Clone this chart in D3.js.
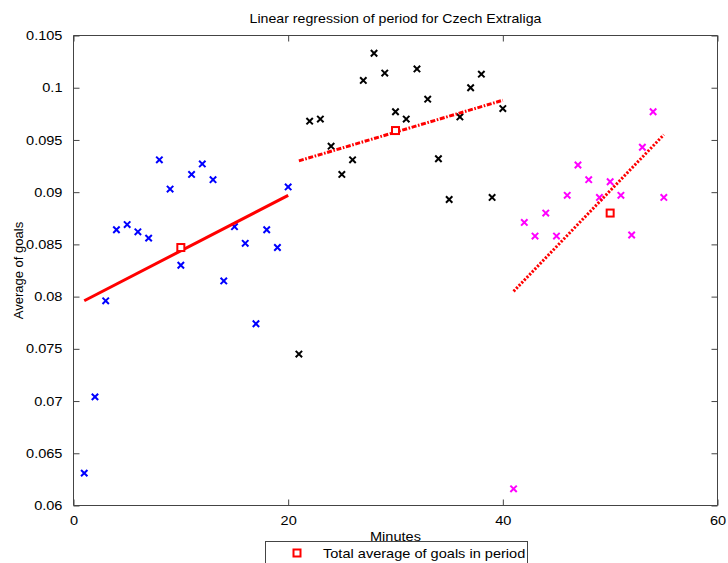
<!DOCTYPE html>
<html>
<head>
<meta charset="utf-8">
<script src="https://cdn.jsdelivr.net/npm/d3@7"></script>
<style>
  html, body { margin: 0; padding: 0; background: #fff; }
  svg { display: block; font-family: "Liberation Sans", Arial, sans-serif; }
</style>
</head>
<body>
<svg id="chart" width="728" height="563"></svg>
<script>
// Per-minute average of goals, grouped by period
const minutesP1 = d3.range(1, 21);
const goalsP1 = [0.0631, 0.0704, 0.0796, 0.0864, 0.0869, 0.0862, 0.0856, 0.0931, 0.0903, 0.0830,
                 0.0917, 0.0927, 0.0912, 0.0815, 0.0867, 0.0851, 0.0774, 0.0864, 0.0847, 0.0905];
const minutesP2 = d3.range(21, 41);
const goalsP2 = [0.0745, 0.0968, 0.0970, 0.0944, 0.0917, 0.0931, 0.1007, 0.1033, 0.1014, 0.0977,
                 0.0970, 0.1018, 0.0989, 0.0932, 0.0893, 0.0972, 0.1000, 0.1013, 0.0895, 0.0980];
const minutesP3 = d3.range(41, 56);
const goalsP3 = [0.0616, 0.0871, 0.0858, 0.0880, 0.0858, 0.0897, 0.0926, 0.0912, 0.0895, 0.0910,
                 0.0897, 0.0859, 0.0943, 0.0977, 0.0895];

// Fitted regression line endpoints per period: [start minute, end minute], [start value, end value]
const fitMinutes = [[1, 20], [21, 40], [41, 55]];
const fitValues = [[0.0796, 0.0897], [0.0930, 0.0988], [0.0805, 0.0955]];

// Total average per period, plotted at the period midpoint
const meanMinutes = [10, 30, 50];
const meanValues = [0.0847, 0.0959, 0.0880];

const xTicks = [0, 20, 40, 60];
const yTicks = [0.06, 0.065, 0.07, 0.075, 0.08, 0.085, 0.09, 0.095, 0.1, 0.105];

const svg = d3.select("#chart");
const plotLeft = 73.5, plotRight = 717.5, plotTop = 35.5, plotBottom = 505.5;

const x = d3.scaleLinear().domain([0, 60]).range([plotLeft, plotRight]);
const y = d3.scaleLinear().domain([0.06, 0.105]).range([plotBottom, plotTop]);

const axisColor = "#444";
const fmt = v => String(+v.toFixed(3));

// Slightly wide lettering, widened around a fixed edge or centre
function widen(sel, origin, k = 1.12) {
  sel.style("transform-box", "fill-box")
     .style("transform-origin", origin)
     .style("transform", `scaleX(${k})`);
}

// Axes: ticks point inward on all four sides
const gx = svg.append("g").attr("transform", `translate(0,${plotBottom})`)
  .call(d3.axisBottom(x).tickValues(xTicks).tickSize(-6).tickPadding(10).tickFormat(d3.format("d")));
const gxTop = svg.append("g").attr("transform", `translate(0,${plotTop})`)
  .call(d3.axisTop(x).tickValues(xTicks).tickSize(-6).tickFormat(""));
const gy = svg.append("g").attr("transform", `translate(${plotLeft},0)`)
  .call(d3.axisLeft(y).tickValues(yTicks).tickSize(-6).tickPadding(11).tickFormat(fmt));
const gyRight = svg.append("g").attr("transform", `translate(${plotRight},0)`)
  .call(d3.axisRight(y).tickValues(yTicks).tickSize(-6).tickFormat(""));

[gx, gxTop, gy, gyRight].forEach(g => {
  g.select(".domain").attr("stroke", axisColor).attr("stroke-width", 1).attr("d",
    g === gx || g === gxTop ? `M${plotLeft},0H${plotRight}` : `M0,${plotTop}V${plotBottom}`);
  g.selectAll(".tick line").attr("stroke", axisColor);
  g.selectAll(".tick text").attr("fill", "#000").attr("font-size", 13)
    .attr("font-family", "'Liberation Sans', Arial, sans-serif");
});
widen(gx.selectAll(".tick text"), "center center");
widen(gy.selectAll(".tick text"), "right center");

// Scatter markers ("x")
const groups = [
  { m: minutesP1, v: goalsP1, color: "#0000ff" },
  { m: minutesP2, v: goalsP2, color: "#000000" },
  { m: minutesP3, v: goalsP3, color: "#ff00ff" }
];
const s = 3.2;
groups.forEach(gr => {
  svg.append("g").selectAll("path")
    .data(gr.m.map((m, i) => [m, gr.v[i]]))
    .join("path")
    .attr("d", d => {
      const cx = x(d[0]), cy = y(d[1]);
      return `M${cx - s},${cy - s}L${cx + s},${cy + s}M${cx - s},${cy + s}L${cx + s},${cy - s}`;
    })
    .attr("stroke", gr.color)
    .attr("stroke-width", 2)
    .attr("fill", "none");
});

// Regression lines: solid, dash-dot, dotted
const dashes = [null, "5,1.6,1.6,1.6", "2.2,1.6"];
const line = d3.line().x(d => x(d[0])).y(d => y(d[1]));
fitMinutes.forEach((fm, i) => {
  svg.append("path")
    .datum([[fm[0], fitValues[i][0]], [fm[1], fitValues[i][1]]])
    .attr("d", line)
    .attr("stroke", "#ff0000")
    .attr("stroke-width", 3)
    .attr("fill", "none")
    .attr("stroke-dasharray", dashes[i]);
});

// Period averages (hollow squares)
svg.append("g").selectAll("rect")
  .data(meanMinutes.map((m, i) => [m, meanValues[i]]))
  .join("rect")
  .attr("x", d => x(d[0]) - 3.5)
  .attr("y", d => y(d[1]) - 3.5)
  .attr("width", 7).attr("height", 7)
  .attr("fill", "#fff")
  .attr("stroke", "#ff0000")
  .attr("stroke-width", 2);

// Title and axis labels
const title = svg.append("text").attr("x", (plotLeft + plotRight) / 2).attr("y", 23)
  .attr("text-anchor", "middle").attr("font-size", 13)
  .text("Linear regression of period for Czech Extraliga");
widen(title, "center center", 1.09);
const xLabel = svg.append("text").attr("x", (plotLeft + plotRight) / 2).attr("y", 541)
  .attr("text-anchor", "middle").attr("font-size", 13)
  .text("Minutes");
widen(xLabel, "center center");
svg.append("text")
  .attr("transform", `translate(23,${(plotTop + plotBottom) / 2}) rotate(-90)`)
  .attr("text-anchor", "middle").attr("font-size", 13)
  .text("Average of goals");

// Legend
const lg = svg.append("g");
lg.append("rect").attr("x", 265.5).attr("y", 541.5).attr("width", 262).attr("height", 32)
  .attr("fill", "#fff").attr("stroke", axisColor);
lg.append("rect").attr("x", 293.5).attr("y", 549.5).attr("width", 7).attr("height", 7)
  .attr("fill", "#fff").attr("stroke", "#ff0000").attr("stroke-width", 2);
const lgText = lg.append("text").attr("x", 323).attr("y", 558).attr("font-size", 13)
  .text("Total average of goals in period");
widen(lgText, "left center");
</script>
</body>
</html>
